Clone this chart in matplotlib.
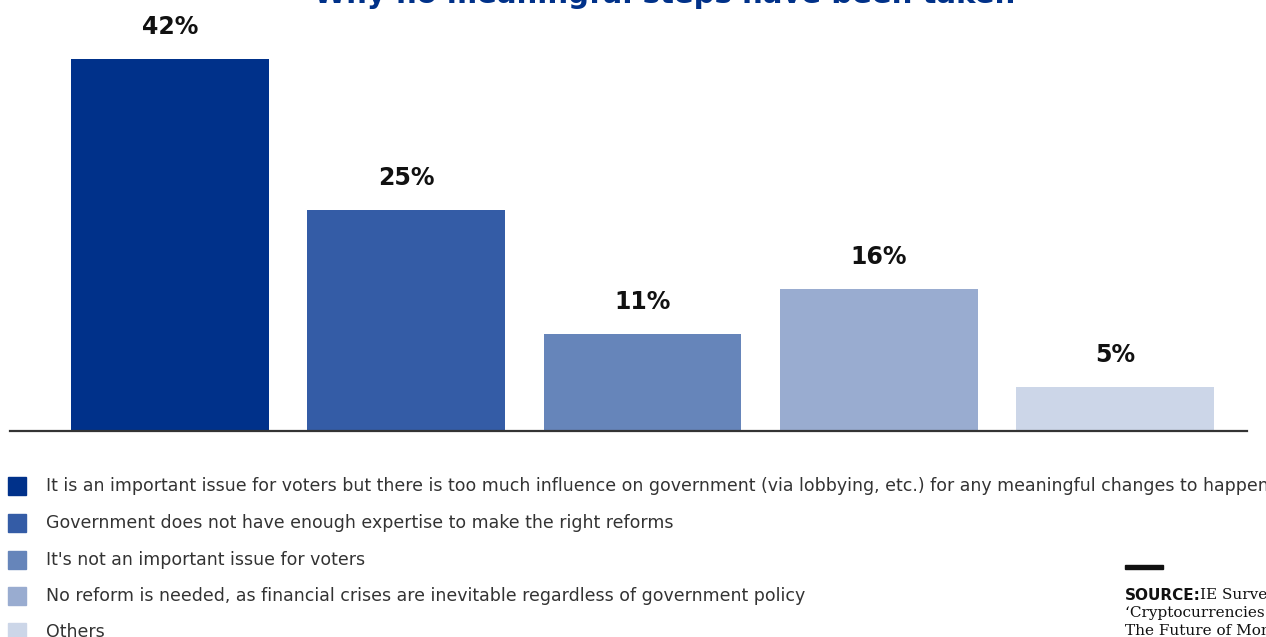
import matplotlib.pyplot as plt

answers = [
    "It is an important issue for voters but there is too much influence on government (via lobbying, etc.) for any meaningful changes to happen",
    "Government does not have enough expertise to make the right reforms",
    "It's not an important issue for voters",
    "No reform is needed, as financial crises are inevitable regardless of government policy",
    "Others",
]
shares = [42, 25, 11, 16, 5]
value_labels = ["42%", "25%", "11%", "16%", "5%"]
colors = ["#00318a", "#345ca6", "#6685ba", "#99acd0", "#ccd6e8"]

title = "Why no meaningful steps have been taken"

W, H = 1266, 637
fig = plt.figure(figsize=(W / 100, H / 100), dpi=100)

# bar area: baseline at 431 px from the top, axis line spans 10..1247 px
ax = fig.add_axes([10 / W, (H - 431) / H, 1237 / W, 431 / H])
x = list(range(len(shares)))
ax.bar(x, shares, width=0.837, color=colors, zorder=2)
ax.set_xlim(-0.6765, 4.558)
ax.set_ylim(0, 431 / 8.857)
for xi, v, lab in zip(x, shares, value_labels):
    ax.text(xi, v + 3.6, lab, ha="center", va="center", fontsize=17,
            fontweight="bold", color="#111111", family="DejaVu Sans")
for side in ["top", "right", "left"]:
    ax.spines[side].set_visible(False)
ax.spines["bottom"].set_color("#333333")
ax.spines["bottom"].set_linewidth(1.6)
ax.set_xticks([])
ax.set_yticks([])

fig.text(665 / W, 1 - 3 / H, title, ha="center", va="baseline", fontsize=21,
         fontweight="bold", color="#003189")

# legend rows
rows_y = [486, 523, 560, 596, 632]
for yy, c, txt in zip(rows_y, colors, answers):
    fig.patches.append(plt.Rectangle((8 / W, 1 - (yy + 9) / H), 18 / W, 18 / H,
                                     transform=fig.transFigure, color=c))
    fig.text(46 / W, 1 - yy / H, txt, ha="left", va="center", fontsize=12.5,
             color="#333333", family="DejaVu Sans")

# source note
fig.patches.append(plt.Rectangle((1125 / W, 1 - 569 / H), 38 / W, 4 / H,
                                 transform=fig.transFigure, color="#111111"))
src = fig.text(1125 / W, 1 - 595 / H, "SOURCE:", ha="left", va="center",
               fontsize=11, fontweight="bold", color="#111111", family="DejaVu Sans")
fig.text(1200 / W, 1 - 595 / H, "IE Survey", ha="left", va="center",
         fontsize=11, color="#111111", family="DejaVu Serif")
fig.text(1125 / W, 1 - 613 / H, "\u2018Cryptocurrencies and", ha="left", va="center",
         fontsize=11, color="#111111", family="DejaVu Serif")
fig.text(1125 / W, 1 - 631 / H, "The Future of Money\u2019", ha="left", va="center",
         fontsize=11, color="#111111", family="DejaVu Serif")

fig.savefig("out.png", dpi=100)
